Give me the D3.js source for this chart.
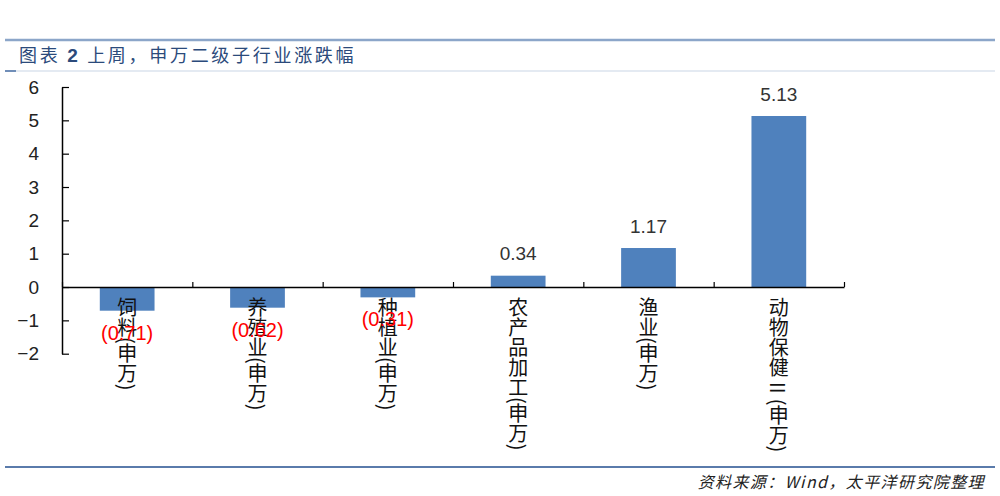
<!DOCTYPE html>
<html lang="zh">
<head>
<meta charset="UTF-8">
<title>申万二级子行业涨跌幅</title>
<script src="https://d3js.org/d3.v7.min.js"></script>
<style>
  body { margin: 0; background: #fff; }
  svg { display: block; }
</style>
</head>
<body>
<div id="chart"></div>
<script>
// data
var categories = ["饲料(申万)", "养殖业(申万)", "种植业(申万)", "农产品加工(申万)", "渔业(申万)", "动物保健\u2005II\u2005(申万)"];
var changes = [-0.71, -0.62, -0.31, 0.34, 1.17, 5.13];
var yTicks = [-2, -1, 0, 1, 2, 3, 4, 5, 6];

var width = 1000, height = 496;
var cjk = "'Noto Sans CJK SC', 'Noto Sans', sans-serif";
var latin = "'Liberation Sans', Arial, sans-serif";

var svg = d3.select("#chart").append("svg")
    .attr("width", width)
    .attr("height", height);

// header rules and title
svg.append("line").attr("x1", 5).attr("x2", 995).attr("y1", 40).attr("y2", 40)
    .attr("stroke", "#8ca6c9").attr("stroke-width", 2.5);
svg.append("line").attr("x1", 5).attr("x2", 995).attr("y1", 71).attr("y2", 71)
    .attr("stroke", "#c9d5e6").attr("stroke-width", 1.2);
svg.append("line").attr("x1", 5).attr("x2", 16).attr("y1", 71).attr("y2", 71)
    .attr("stroke", "#4a6fa5").attr("stroke-width", 1.5);

var title = svg.append("text")
    .attr("x", 19).attr("y", 62)
    .style("font-family", cjk).style("font-size", "18px")
    .style("letter-spacing", "2.7px")
    .attr("fill", "#2b4a7b");
title.append("tspan").text("图表 ");
title.append("tspan").style("font-family", latin).style("font-weight", "bold").style("font-size", "19px").text("2");
title.append("tspan").text(" 上周，申万二级子行业涨跌幅");

// footer
svg.append("line").attr("x1", 5).attr("x2", 995).attr("y1", 467).attr("y2", 467)
    .attr("stroke", "#5a7bab").attr("stroke-width", 2);
svg.append("text")
    .attr("x", 985).attr("y", 488)
    .attr("text-anchor", "end")
    .style("font-family", cjk).style("font-size", "16px")
    .style("font-style", "italic")
    .style("letter-spacing", "1.4px")
    .attr("fill", "#222")
    .text("资料来源：Wind，太平洋研究院整理");

// scales
var x = d3.scaleBand()
    .domain(categories)
    .range([62, 844])
    .paddingInner(0.58)
    .paddingOuter(0.29);

var y = d3.scaleLinear()
    .domain([-2, 6])
    .range([353.7, 87]);

// bars
svg.append("g").selectAll("rect")
    .data(changes)
    .enter().append("rect")
    .attr("x", function (d, i) { return x(categories[i]); })
    .attr("width", x.bandwidth())
    .attr("y", function (d) { return y(Math.max(d, 0)); })
    .attr("height", function (d) { return Math.abs(y(d) - y(0)); })
    .attr("fill", "#4f81bd");

// y axis, ticks pointing into the plot
var yAxis = svg.append("g")
    .attr("transform", "translate(62,0)")
    .call(d3.axisLeft(y).tickValues(yTicks).tickSizeInner(-7).tickSizeOuter(0).tickPadding(23));
yAxis.select(".domain").attr("stroke", "#000").attr("stroke-width", 1.5);
yAxis.selectAll(".tick line").attr("stroke", "#000").attr("stroke-width", 1.2);
yAxis.selectAll(".tick text")
    .style("font-family", latin).style("font-size", "19px")
    .attr("fill", "#222");

// x axis with tick marks on the category boundaries
var xEdge = d3.scaleLinear().domain([0, categories.length]).range([62, 844]);
var xAxis = svg.append("g")
    .attr("transform", "translate(0," + y(0) + ")")
    .call(d3.axisBottom(xEdge).ticks(categories.length).tickSizeInner(-5).tickSizeOuter(0).tickFormat(""));
xAxis.select(".domain").attr("stroke", "#000").attr("stroke-width", 1.5);
xAxis.selectAll(".tick line").attr("stroke", "#000").attr("stroke-width", 1.2);

// category labels, written vertically
svg.append("g").selectAll("text")
    .data(categories)
    .enter().append("text")
    .attr("x", function (d) { return x(d) + x.bandwidth() / 2; })
    .attr("y", 297)
    .style("writing-mode", "vertical-rl")
    .style("font-family", cjk).style("font-size", "20px")
    .attr("fill", "#111")
    .text(function (d) { return d; });

// value labels, negatives in red brackets
svg.append("g").selectAll("text")
    .data(changes)
    .enter().append("text")
    .attr("x", function (d, i) { return x(categories[i]) + x.bandwidth() / 2; })
    .attr("y", function (d) { return d < 0 ? y(d) + 22 : y(d) - 22; })
    .attr("text-anchor", "middle")
    .attr("dominant-baseline", "central")
    .style("font-family", latin)
    .style("font-size", function (d) { return d < 0 ? "20px" : "19px"; })
    .attr("fill", function (d) { return d < 0 ? "#ff0000" : "#333"; })
    .text(function (d) { return d < 0 ? "(" + d3.format(".2f")(-d) + ")" : d3.format(".2f")(d); });
</script>
</body>
</html>
